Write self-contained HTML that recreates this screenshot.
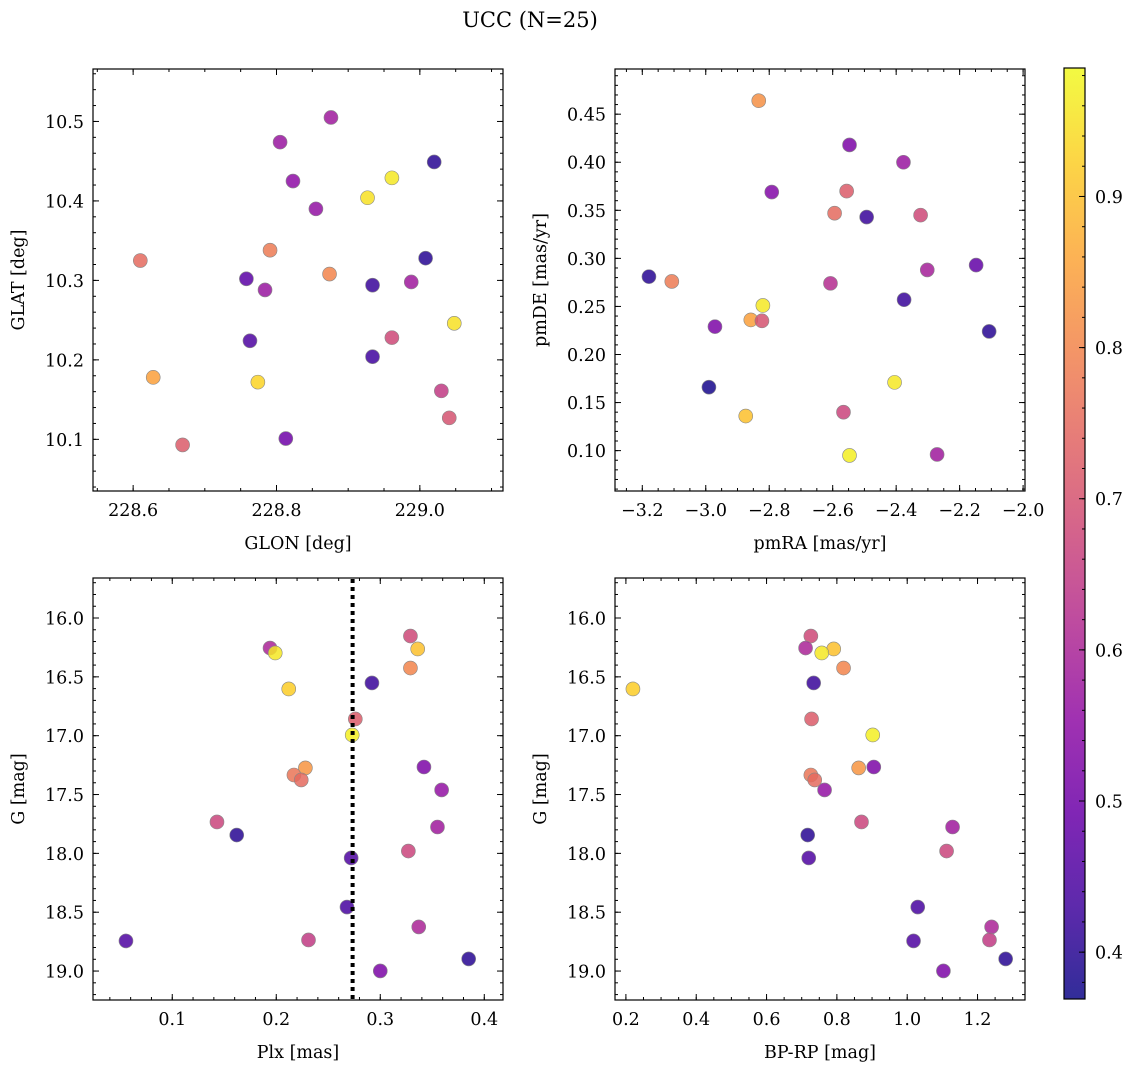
<!DOCTYPE html>
<html><head><meta charset="utf-8">
<style>
html,body{margin:0;padding:0;background:#fff;}
svg{display:block;font-family:"DejaVu Serif","Liberation Serif",serif;}
</style></head>
<body>
<svg id="fig" width="1136" height="1068" viewBox="0 0 1136 1068" xmlns="http://www.w3.org/2000/svg">
<text x="530" y="27" font-size="21" text-anchor="middle">UCC (N=25)</text>
</svg>
<script>
// ---- data ----
const p1Glon=[228.876,228.805,228.823,229.020,228.961,228.927,228.855,228.610,228.791,228.874,229.008,228.758,228.784,228.934,228.988,229.048,228.961,228.763,228.934,228.628,228.774,229.030,229.041,228.669,228.813];
const p1Glat=[10.505,10.474,10.425,10.449,10.429,10.404,10.390,10.325,10.338,10.308,10.328,10.302,10.288,10.294,10.298,10.246,10.228,10.224,10.204,10.178,10.172,10.161,10.127,10.093,10.101];
const p1Prob=[0.58,0.57,0.55,0.40,0.96,0.95,0.56,0.75,0.78,0.80,0.40,0.47,0.57,0.42,0.58,0.95,0.68,0.45,0.43,0.85,0.93,0.65,0.70,0.72,0.50];
const p2Pmra=[-2.833,-2.547,-2.377,-2.792,-2.556,-2.594,-2.493,-2.323,-3.179,-3.107,-2.148,-2.302,-2.607,-2.820,-2.858,-2.823,-2.375,-2.971,-2.107,-2.990,-2.405,-2.874,-2.566,-2.547,-2.271];
const p2Pmde=[0.464,0.418,0.400,0.369,0.370,0.347,0.343,0.345,0.281,0.276,0.293,0.288,0.274,0.251,0.236,0.235,0.257,0.229,0.224,0.166,0.171,0.136,0.140,0.095,0.096];
const p2Prob=[0.82,0.52,0.57,0.53,0.72,0.75,0.42,0.68,0.40,0.78,0.48,0.59,0.62,0.96,0.85,0.70,0.42,0.52,0.40,0.38,0.96,0.90,0.67,0.97,0.58];
const p3Plx=[0.329,0.194,0.199,0.336,0.329,0.292,0.212,0.276,0.273,0.228,0.217,0.224,0.342,0.359,0.143,0.355,0.162,0.327,0.272,0.268,0.337,0.0555,0.231,0.385,0.300];
const p3G=[16.153,16.255,16.297,16.263,16.425,16.552,16.603,16.858,16.994,17.274,17.334,17.376,17.266,17.461,17.733,17.776,17.844,17.980,18.039,18.456,18.625,18.744,18.736,18.897,18.999];
const p3Prob=[0.68,0.60,0.96,0.90,0.80,0.42,0.92,0.72,0.97,0.83,0.77,0.75,0.52,0.56,0.67,0.58,0.40,0.67,0.45,0.44,0.60,0.45,0.65,0.40,0.52];
const p4Bprp=[0.726,0.711,0.791,0.757,0.819,0.734,0.220,0.728,0.902,0.905,0.862,0.726,0.737,0.765,0.870,1.129,0.717,1.112,0.720,1.030,1.240,1.018,1.234,1.280,1.103];
const p4G=[16.153,16.255,16.263,16.297,16.425,16.552,16.603,16.858,16.994,17.266,17.274,17.334,17.376,17.461,17.733,17.776,17.844,17.980,18.039,18.456,18.625,18.744,18.736,18.897,18.999];
const p4Prob=[0.68,0.60,0.90,0.96,0.80,0.42,0.92,0.72,0.97,0.52,0.83,0.77,0.75,0.56,0.67,0.58,0.40,0.67,0.45,0.44,0.60,0.45,0.65,0.40,0.52];
const plxMedian=0.2734;
const cbTicks=[0.4,0.5,0.6,0.7,0.8,0.9];
const probMin=0.369, probMax=0.985;

const NS="http://www.w3.org/2000/svg";
const svg=document.getElementById('fig');
function mk(tag,attrs,parent){const e=document.createElementNS(NS,tag);for(const k in attrs)e.setAttribute(k,attrs[k]);(parent||svg).appendChild(e);return e;}
const plasma=[[13,8,135],[65,4,157],[106,0,168],[143,13,164],[177,42,144],[204,71,120],[225,100,98],[242,132,75],[252,166,54],[252,206,37],[240,249,33]];
function cmap(v){let t=(v-probMin)/(probMax-probMin);t=Math.max(0,Math.min(1,t))*10;const i=Math.min(9,Math.floor(t)),f=t-i;const a=plasma[i],b=plasma[i+1];
 const c=a.map((x,k)=>Math.round(x+(b[k]-x)*f));return `rgb(${c[0]},${c[1]},${c[2]})`;}
function fmt(v,d){let s=v.toFixed(d);if(s.startsWith('-'))s='\u2212'+s.slice(1);return s;}

function panel(name,box,xr,yr,xMaj,xMin,xDec,yMaj,yMin,yDec,yInv,xlabel,ylabel,xs,ys,cs){
 const [L,T,R,B]=box;
 const g=mk('g',{});
 
 
 const sx=v=>L+(v-xr[0])/(xr[1]-xr[0])*(R-L);
 const sy=v=>yInv?T+(v-yr[0])/(yr[1]-yr[0])*(B-T):B-(v-yr[0])/(yr[1]-yr[0])*(B-T);
 const ticks=(lo,hi,st)=>{const o=[];for(let k=Math.ceil(lo/st-1e-6);k*st<=hi+1e-9;k++)o.push(+(k*st).toFixed(6));return o;};
 const tg=mk('g',{stroke:'#000','stroke-width':1},g);
 
 
 ticks(xr[0],xr[1],xMin).forEach(v=>{const x=sx(v);mk('line',{x1:x,x2:x,y1:B,y2:B-3},tg);mk('line',{x1:x,x2:x,y1:T,y2:T+3},tg);});
 ticks(xr[0],xr[1],xMaj).forEach(v=>{const x=sx(v);mk('line',{x1:x,x2:x,y1:B,y2:B-6},tg);mk('line',{x1:x,x2:x,y1:T,y2:T+6},tg);
  const t=mk('text',{x:x,y:B+25,'font-size':17.5,'text-anchor':'middle',stroke:'none',fill:'#000'},g);t.textContent=fmt(v,xDec);
  });
 ticks(Math.min(...yr),Math.max(...yr),yMin).forEach(v=>{const y=sy(v);mk('line',{x1:L,x2:L+3,y1:y,y2:y},tg);mk('line',{x1:R,x2:R-3,y1:y,y2:y},tg);});
 ticks(Math.min(...yr),Math.max(...yr),yMaj).forEach(v=>{const y=sy(v);mk('line',{x1:L,x2:L+6,y1:y,y2:y},tg);mk('line',{x1:R,x2:R-6,y1:y,y2:y},tg);
  const t=mk('text',{x:L-9,y:y+6.5,'font-size':17.5,'text-anchor':'end',fill:'#000'},g);t.textContent=fmt(v,yDec);
  });
 const xl=mk('text',{x:(L+R)/2,y:B+58,'font-size':17.5,'text-anchor':'middle'},g);xl.textContent=xlabel;
 
 const yl=mk('text',{x:0,y:0,'font-size':17.5,'text-anchor':'middle',transform:`translate(${L-69},${(T+B)/2}) rotate(-90)`},g);yl.textContent=ylabel;
 
 const pg=mk('g',{},g);
 
 
 xs.forEach((v,i)=>{const c=mk('circle',{cx:sx(v),cy:sy(ys[i]),r:7,fill:cmap(cs[i]),'fill-opacity':0.85,stroke:'#888','stroke-width':0.6},pg);
  });
 const fr=mk('rect',{x:L,y:T,width:R-L,height:B-T,fill:'none',stroke:'#000','stroke-width':1.2},g);
 
 return {sx,sy,g};
}

panel('glon-glat-panel',[93,69,503,491],[228.544,229.116],[10.035,10.566],0.2,0.05,1,0.1,0.02,1,false,'GLON [deg]','GLAT [deg]',p1Glon,p1Glat,p1Prob);
panel('pm-panel',[615,69,1025,491],[-3.286,-1.994],[0.058,0.497],0.2,0.05,1,0.05,0.01,2,false,'pmRA [mas/yr]','pmDE [mas/yr]',p2Pmra,p2Pmde,p2Prob);
const p3=panel('plx-g-panel',[93,578,503,1000],[0.0238,0.418],[15.66,19.246],0.1,0.02,1,0.5,0.1,1,true,'Plx [mas]','G [mag]',p3Plx,p3G,p3Prob);
const ml=mk('line',{x1:p3.sx(plxMedian),x2:p3.sx(plxMedian),y1:579,y2:999,stroke:'#000','stroke-width':4,'stroke-dasharray':'4 4'},p3.g);


panel('cmd-panel',[615,578,1025,1000],[0.169,1.335],[15.66,19.246],0.2,0.05,1,0.5,0.1,1,true,'BP-RP [mag]','G [mag]',p4Bprp,p4G,p4Prob);

// colorbar
const cb=mk('g',{});


const CT=68,CB=999,CL=1064,CR=1085;
const defs=mk('defs',{},svg);const grad=mk('linearGradient',{id:'cg',x1:0,y1:1,x2:0,y2:0},defs);
for(let i=0;i<=20;i++){const v=probMin+(probMax-probMin)*i/20;mk('stop',{offset:(i/20),'stop-color':cmap(v),'stop-opacity':0.85},grad);}
mk('rect',{x:CL,y:CT,width:CR-CL,height:CB-CT,fill:'url(#cg)'},cb);
const cy=v=>CB-(v-probMin)/(probMax-probMin)*(CB-CT);
for(let k=19;k<=49;k++){const v=k/50;if(v<probMin||v>probMax)continue;mk('line',{x1:CR,x2:CR-3,y1:cy(v),y2:cy(v),stroke:'#000'},cb);}
cbTicks.forEach(v=>{const y=cy(v);mk('line',{x1:CR,x2:CR-6,y1:y,y2:y,stroke:'#000'},cb);
 const t=mk('text',{x:CR+10,y:y+6.5,'font-size':17.5},cb);t.textContent=v.toFixed(1);
 });
mk('rect',{x:CL,y:CT,width:CR-CL,height:CB-CT,fill:'none',stroke:'#000','stroke-width':1.2},cb);
</script>
</body></html>
